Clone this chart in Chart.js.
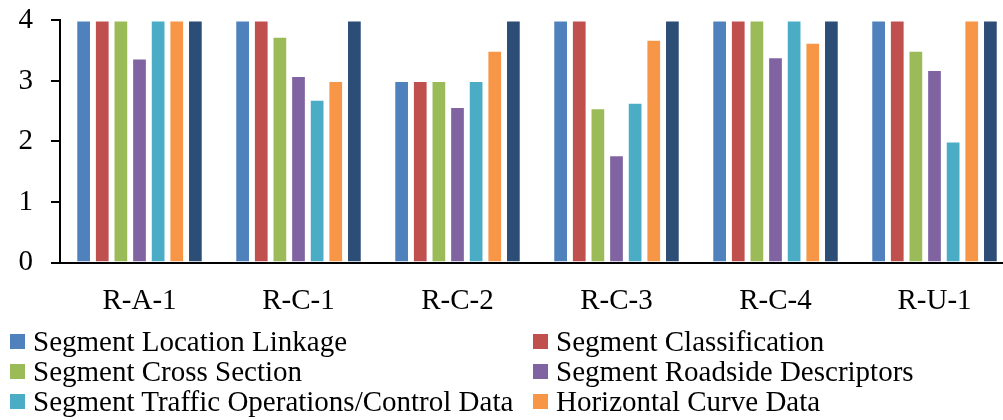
<!DOCTYPE html>
<html>
<head>
<meta charset="utf-8">
<script src="https://cdn.jsdelivr.net/npm/chart.js@4/dist/chart.umd.min.js"></script>
<style>
  html, body { margin: 0; padding: 0; background: #fff; overflow: hidden; }
  body { width: 1003px; height: 420px; position: relative; }
  #wrap { position: absolute; left: 0; top: -15px; width: 1020px; height: 345px; }
  #legend {
    position: absolute; left: 0; top: 326px; width: 1003px;
    font-family: "Liberation Serif", "Times New Roman", serif; font-size: 29px; color: #000;
  }
  .item { position: absolute; height: 30px; line-height: 30px; white-space: nowrap; }
  .box { position: absolute; top: 8px; width: 15px; height: 15px; }
  .txt { position: absolute; left: 23px; top: 0; }
</style>
</head>
<body>
<div id="wrap"><canvas id="c" width="1020" height="345"></canvas></div>
<div id="legend"></div>
<script>
// Road segment categories along the x axis
const categories = ['R-A-1', 'R-C-1', 'R-C-2', 'R-C-3', 'R-C-4', 'R-U-1'];

// Scores (0-4) per data element group
const locationLinkage = [4, 4, 3, 4, 4, 4];
const classification  = [4, 4, 3, 4, 4, 4];
const crossSection    = [4, 3.73, 3, 2.55, 4, 3.5];
const roadside        = [3.37, 3.08, 2.57, 1.77, 3.39, 3.18];
const trafficOps      = [4, 2.69, 3, 2.64, 4, 2];
const horizontalCurve = [4, 3, 3.5, 3.68, 3.63, 4];
const verticalGrade   = [4, 4, 4, 4, 4, 4];

const seriesNames = [
  'Segment Location Linkage',
  'Segment Classification',
  'Segment Cross Section',
  'Segment Roadside Descriptors',
  'Segment Traffic Operations/Control Data',
  'Horizontal Curve Data',
  'Vertical Grade Data'
];
const seriesValues = [locationLinkage, classification, crossSection, roadside, trafficOps, horizontalCurve, verticalGrade];
const seriesColors = ['#4F81BD', '#C0504D', '#9BBB59', '#8064A2', '#4BACC6', '#F79646', '#2C4D75'];

const yTicks = [0, 1, 2, 3, 4];

const FONT = '"Liberation Serif", "Times New Roman", serif';
const CANVAS_H = 345;
const AXIS_Y = 277.5; // x axis line position inside the canvas

const datasets = seriesNames.map((name, i) => ({
  label: name,
  data: seriesValues[i],
  backgroundColor: seriesColors[i],
  borderColor: 'rgba(255,255,255,0.35)',
  borderWidth: 1,
  categoryPercentage: 0.82,
  barPercentage: 0.79
}));

const chart = new Chart(document.getElementById('c'), {
  type: 'bar',
  data: { labels: categories, datasets },
  options: {
    responsive: false,
    animation: false,
    layout: { padding: { top: 6, right: 6, left: 0, bottom: 0 } },
    plugins: { legend: { display: false }, tooltip: { enabled: false } },
    scales: {
      x: {
        grid: { display: false },
        border: { display: true, color: '#000', width: 2 },
        ticks: { color: '#000', font: { family: FONT, size: 29 }, padding: 13, maxRotation: 0 },
        afterFit: (s) => { s.height = CANVAS_H - AXIS_Y; }
      },
      y: {
        min: 0, max: 4,
        afterBuildTicks: (s) => { s.ticks = yTicks.map(v => ({ value: v })); },
        grid: { drawOnChartArea: false, drawTicks: true, tickLength: 9, color: '#000', lineWidth: 2 },
        border: { display: true, color: '#000', width: 2 },
        ticks: { color: '#000', font: { family: FONT, size: 29 }, padding: 18 },
        afterFit: (s) => { s.width = 60; }
      }
    }
  }
});

// Two-column legend built from the chart's datasets (last series sits below the visible rows)
const legend = document.getElementById('legend');
const colX = [10, 533];
chart.data.datasets.forEach((ds, i) => {
  const item = document.createElement('div');
  item.className = 'item';
  item.style.left = colX[i % 2] + 'px';
  item.style.top = (Math.floor(i / 2) * 30) + 'px';
  const box = document.createElement('div');
  box.className = 'box';
  box.style.background = ds.backgroundColor;
  const txt = document.createElement('div');
  txt.className = 'txt';
  txt.textContent = ds.label;
  item.appendChild(box);
  item.appendChild(txt);
  legend.appendChild(item);
});
</script>
</body>
</html>
